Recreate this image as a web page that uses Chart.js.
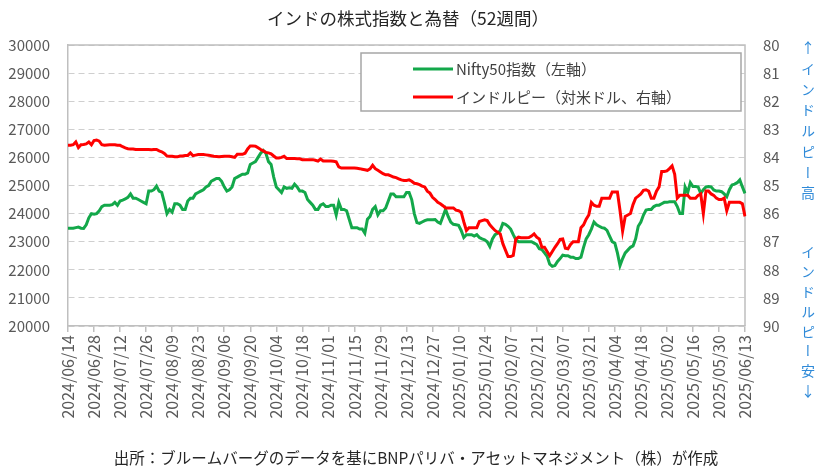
<!DOCTYPE html>
<html>
<head>
<meta charset="utf-8">
<script src="https://cdn.jsdelivr.net/npm/chart.js@4.4.1/dist/chart.umd.min.js"></script>
<style>
  body { margin: 0; background: #fff; }
  #wrap { position: relative; width: 822px; height: 472px; }
  .vlabel {
    position: absolute; left: 800px; width: 16px;
    writing-mode: vertical-rl; text-orientation: upright;
    font-family: "Noto Sans CJK JP"; font-size: 14px; line-height: 16px;
    letter-spacing: 6.7px; color: #2f8ad8;
  }
</style>
</head>
<body>
<div id="wrap">
  <canvas id="chart-one"></canvas>
  <div class="vlabel" style="top:41px">↑インドルピー高</div>
  <div class="vlabel" style="top:245px;letter-spacing:5.8px">インドルピー安↓</div>
</div>
<script>
const FONT = '"Noto Sans CJK JP", "Noto Sans", sans-serif';
const GREEN = '#13a84a';
const RED = '#ff0000';

// 目盛りに出す日付 (2週間ごと)
const tickLabels = [
  '2024/06/14','2024/06/28','2024/07/12','2024/07/26','2024/08/09','2024/08/23',
  '2024/09/06','2024/09/20','2024/10/04','2024/10/18','2024/11/01','2024/11/15',
  '2024/11/29','2024/12/13','2024/12/27','2025/01/10','2025/01/24','2025/02/07',
  '2025/02/21','2025/03/07','2025/03/21','2025/04/04','2025/04/18','2025/05/02',
  '2025/05/16','2025/05/30','2025/06/13'
];

// Nifty50指数 (営業日ごと、左軸)
const nifty = [
  23480,23480,23480,23500,23520,23480,23470,23600,23850,24000,
  23980,24000,24100,24250,24300,24300,24300,24320,24400,24300,
  24450,24480,24520,24580,24700,24550,24550,24500,24450,24400,
  24350,24800,24800,24850,24980,24800,24750,24400,24000,24150,
  24050,24350,24350,24300,24150,24150,24450,24550,24550,24700,
  24750,24800,24850,24950,25000,25150,25200,25250,25250,25150,
  24950,24800,24850,24950,25250,25300,25350,25400,25400,25450,
  25750,25800,25850,26000,26150,26250,26150,25850,25750,25300,
  24950,24850,24750,24950,24900,24920,24900,25050,24950,24800,
  24800,24750,24500,24400,24300,24150,24150,24300,24350,24250,
  24250,24300,24300,23950,24400,24150,24150,24100,23800,23500,
  23500,23500,23450,23450,23300,23800,23900,24150,24250,23950,
  24100,24100,24200,24450,24700,24700,24600,24600,24600,24600,
  24750,24750,24500,24000,23680,23650,23700,23750,23780,23780,
  23780,23790,23700,23650,23900,24150,23900,23700,23620,23600,
  23580,23400,23150,23250,23250,23250,23200,23250,23150,23100,
  23070,23000,22830,23100,23250,23300,23400,23650,23620,23550,
  23450,23250,23070,23000,23000,23000,23000,23000,23000,22950,
  22900,22750,22720,22600,22480,22200,22120,22150,22300,22400,
  22520,22500,22500,22450,22450,22400,22400,22450,22800,23100,
  23250,23450,23700,23600,23550,23500,23480,23400,23200,23000,
  22950,22600,22150,22400,22600,22700,22800,22850,23100,23550,
  23700,23950,24130,24150,24150,24250,24300,24300,24350,24400,
  24400,24420,24420,24420,24250,24000,24000,24950,24750,25100,
  24960,24960,24950,24720,24850,24950,24960,24950,24840,24800,
  24800,24780,24700,24600,24850,25020,25050,25100,25200,24950,
  24720
];

// インドルピー (対米ドル、右軸・反転)
const inr = [
  83.57,83.57,83.55,83.45,83.65,83.55,83.54,83.52,83.45,83.55,
  83.40,83.38,83.42,83.55,83.57,83.56,83.55,83.55,83.55,83.57,
  83.57,83.62,83.66,83.69,83.70,83.70,83.72,83.72,83.72,83.72,
  83.72,83.72,83.73,83.72,83.72,83.77,83.80,83.86,83.95,83.96,
  83.96,83.98,83.98,83.95,83.95,83.93,83.93,83.84,83.94,83.92,
  83.90,83.90,83.90,83.91,83.92,83.94,83.96,83.97,83.98,83.97,
  83.96,83.96,83.96,83.98,84.00,83.89,83.89,83.89,83.85,83.70,
  83.59,83.59,83.60,83.66,83.72,83.77,83.82,83.84,83.87,83.95,
  84.02,84.02,84.00,83.96,84.04,84.04,84.04,84.04,84.05,84.05,
  84.08,84.08,84.08,84.08,84.08,84.10,84.13,84.06,84.13,84.13,
  84.13,84.13,84.14,84.16,84.34,84.38,84.38,84.38,84.38,84.38,
  84.38,84.39,84.40,84.42,84.44,84.46,84.41,84.28,84.40,84.46,
  84.52,84.58,84.62,84.62,84.66,84.70,84.72,84.76,84.80,84.82,
  84.82,84.80,84.85,84.92,84.94,84.97,85.02,85.05,85.20,85.27,
  85.42,85.50,85.60,85.65,85.72,85.80,85.80,85.80,85.80,85.88,
  85.90,85.95,86.29,86.60,86.50,86.50,86.50,86.50,86.28,86.25,
  86.22,86.25,86.40,86.50,86.60,86.66,86.72,87.07,87.30,87.53,
  87.53,87.49,86.90,86.84,86.86,86.86,86.86,86.85,86.80,86.72,
  86.84,86.90,87.20,87.20,87.35,87.50,87.35,87.20,87.07,86.92,
  86.90,87.23,87.25,87.10,87.00,87.00,87.00,86.50,86.40,86.20,
  86.05,85.60,85.70,85.74,85.74,85.45,85.45,85.45,85.45,85.23,
  85.23,85.23,85.89,86.62,86.10,86.05,86.00,85.68,85.45,85.38,
  85.30,85.17,85.15,85.20,85.45,85.45,85.20,85.05,84.50,84.50,
  84.48,84.40,84.30,84.60,85.45,85.35,85.35,85.35,85.35,85.45,
  85.45,85.45,85.35,85.30,86.00,85.20,85.20,85.30,85.35,85.45,
  85.50,85.50,85.45,85.90,85.60,85.60,85.60,85.60,85.60,85.65,
  86.10
];

// 営業日(平日)のラベル
const days = [];
let d = new Date(Date.UTC(2024, 5, 14));
while (days.length < nifty.length) {
  const wd = d.getUTCDay();
  if (wd !== 0 && wd !== 6) {
    days.push(d.getUTCFullYear() + '/' + String(d.getUTCMonth() + 1).padStart(2, '0') + '/' + String(d.getUTCDate()).padStart(2, '0'));
  }
  d.setUTCDate(d.getUTCDate() + 1);
}

const legendItems = [
  { text: 'Nifty50指数（左軸）', color: GREEN },
  { text: 'インドルピー（対米ドル、右軸）', color: RED }
];

// 枠線・凡例・タイトル・出所
const decorations = {
  id: 'decorations',
  beforeDatasetsDraw(chart) {
    const { ctx, chartArea: a } = chart;
    ctx.save();
    ctx.strokeStyle = '#bfbfbf';
    ctx.lineWidth = 1.5;
    ctx.beginPath();
    ctx.moveTo(a.left, a.top);
    ctx.lineTo(a.right, a.top);
    ctx.lineTo(a.right, a.bottom);
    ctx.stroke();
    ctx.restore();
  },
  afterDatasetsDraw(chart) {
    const { ctx, chartArea: a } = chart;
    const bx = 361, by = a.top + 8, bw = a.right - 4 - bx, bh = 58;
    ctx.save();
    ctx.fillStyle = '#fff';
    ctx.fillRect(bx, by, bw, bh);
    ctx.strokeStyle = '#a6a6a6';
    ctx.lineWidth = 1.5;
    ctx.strokeRect(bx, by, bw, bh);
    ctx.font = '15px ' + FONT;
    ctx.textBaseline = 'middle';
    legendItems.forEach((it, i) => {
      const ly = by + 16 + i * 28;
      ctx.strokeStyle = it.color;
      ctx.lineWidth = 3;
      ctx.beginPath();
      ctx.moveTo(413, ly);
      ctx.lineTo(453, ly);
      ctx.stroke();
      ctx.fillStyle = '#404040';
      ctx.fillText(it.text, 456, ly);
    });
    ctx.restore();
  },
  afterDraw(chart) {
    const { ctx } = chart;
    ctx.save();
    ctx.fillStyle = '#262626';
    ctx.textAlign = 'center';
    ctx.textBaseline = 'middle';
    ctx.font = '17.5px ' + FONT;
    ctx.fillText('インドの株式指数と為替（52週間）', 408, 18);
    ctx.font = '15.5px ' + FONT;
    ctx.fillText('出所：ブルームバーグのデータを基にBNPパリバ・アセットマネジメント（株）が作成', 416, 458);
    ctx.restore();
  }
};

const ctx = document.getElementById('chart-one').getContext('2d');

new Chart(ctx, {
  type: 'line',
  data: {
    labels: days,
    datasets: [
      { label: legendItems[0].text, data: nifty, borderColor: GREEN, borderWidth: 3,
        pointRadius: 0, tension: 0, yAxisID: 'y', order: 2 },
      { label: legendItems[1].text, data: inr, borderColor: RED, borderWidth: 3,
        pointRadius: 0, tension: 0, yAxisID: 'y1', order: 1 }
    ]
  },
  options: {
    responsive: true,
    maintainAspectRatio: false,
    animation: false,
    layout: { padding: { top: 45 } },
    plugins: { legend: { display: false }, tooltip: { enabled: false } },
    scales: {
      x: {
        afterBuildTicks: s => { s.ticks = s.ticks.filter((t, i) => i % 10 === 0); },
        afterFit: s => { s.height = 146; },
        ticks: {
          autoSkip: false, maxRotation: 90, minRotation: 90, padding: 3,
          color: '#595959', font: { family: FONT, size: 16 },
          callback: (v, i) => tickLabels[i]
        },
        grid: { drawOnChartArea: false, tickLength: 6, color: '#bfbfbf', lineWidth: 1.5 },
        border: { color: '#bfbfbf', width: 1.5 }
      },
      y: {
        position: 'left', min: 20000, max: 30000,
        afterFit: s => { s.width = 68; },
        ticks: { stepSize: 1000, padding: 18, color: '#595959',
          font: { family: FONT, size: 15 }, callback: v => String(v) },
        grid: { color: '#cfcfcf', lineWidth: 1, drawTicks: false },
        border: { color: '#bfbfbf', width: 1.5, dash: [6, 4] }
      },
      y1: {
        position: 'right', reverse: true, min: 80, max: 90,
        afterFit: s => { s.width = 77; },
        ticks: { stepSize: 1, padding: 18, color: '#595959',
          font: { family: FONT, size: 15 } },
        grid: { drawOnChartArea: false, drawTicks: false },
        border: { display: false }
      }
    }
  },
  plugins: [decorations]
});
</script>
</body>
</html>
